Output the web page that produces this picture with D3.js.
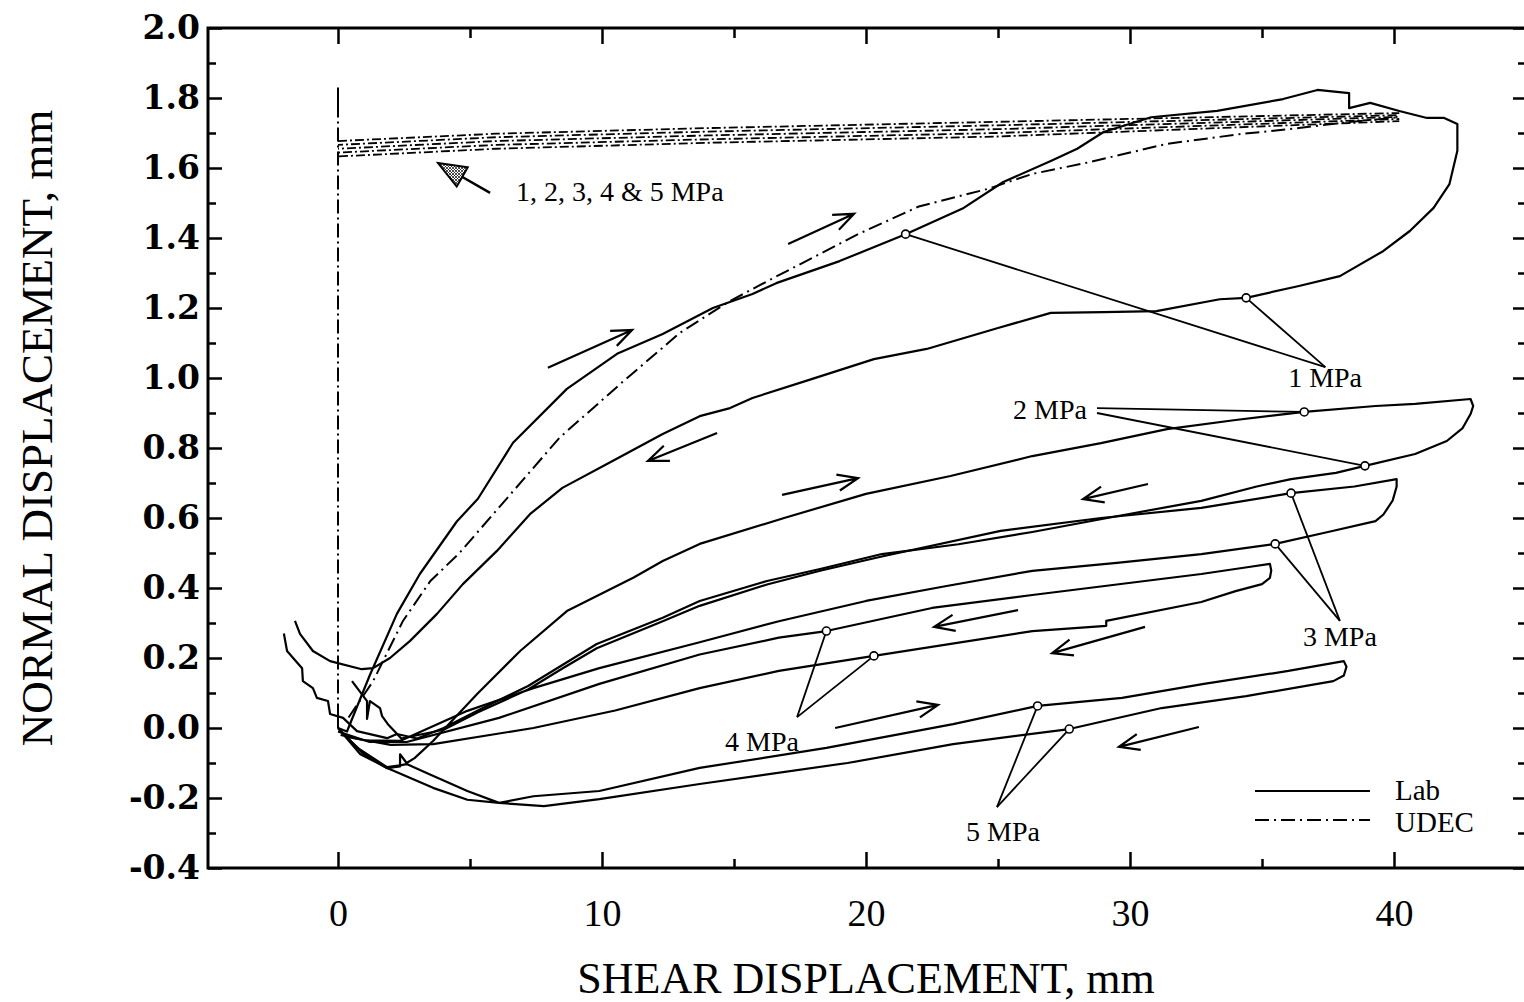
<!DOCTYPE html>
<html>
<head>
<meta charset="utf-8">
<script src="https://cdn.jsdelivr.net/npm/d3@7"></script>
<style>
  body { margin: 0; background: #fff; }
  svg { display: block; }
</style>
</head>
<body>
<div class="shear-chart"></div>
<script>
// axis ticks
const xTicks = [0, 10, 20, 30, 40]
const xMinorTicks = [5, 15, 25, 35]
const yTicks = [-0.4, -0.2, 0.0, 0.2, 0.4, 0.6, 0.8, 1.0, 1.2, 1.4, 1.6, 1.8, 2.0]
const yMinorTicks = [-0.3, -0.1, 0.1, 0.3, 0.5, 0.7, 0.9, 1.1, 1.3, 1.5, 1.7, 1.9]

// lab curves [shear mm, normal mm]
const lab1MPa = [
  [0.0, 0.0], [0.34, -0.01], [1.2, 0.15], [2.23, 0.326], [3.1, 0.44], [4.5, 0.59], [5.3, 0.655],
  [6.63, 0.815], [8.67, 0.969], [10.57, 1.069], [12.3, 1.126], [14.2, 1.2], [15.7, 1.24], [16.6, 1.271],
  [19.0, 1.334], [21.5, 1.411], [23.7, 1.486], [25.2, 1.56], [27.0, 1.62], [28.0, 1.655], [29.0, 1.703],
  [30.8, 1.745], [33.3, 1.763], [35.8, 1.797], [37.1, 1.823], [38.3, 1.814], [38.3, 1.771], [39.1, 1.786],
  [40.2, 1.763], [41.25, 1.743], [41.9, 1.743], [42.4, 1.726], [42.4, 1.649], [42.1, 1.554], [41.5, 1.486],
  [40.6, 1.42], [39.6, 1.363], [37.95, 1.291], [36.4, 1.263], [34.4, 1.229], [33.4, 1.225], [31.0, 1.191],
  [29.0, 1.188], [27.0, 1.186], [25.0, 1.143], [22.3, 1.083], [20.3, 1.054], [17.7, 0.991], [15.7, 0.943],
  [14.85, 0.914], [13.7, 0.891], [12.3, 0.84], [10.4, 0.763], [8.5, 0.686], [7.27, 0.611], [6.02, 0.506],
  [4.73, 0.411], [3.75, 0.326], [2.73, 0.249], [1.97, 0.2], [1.33, 0.171], [0.9, 0.168], [-0.3, 0.191],
  [-0.95, 0.22], [-1.44, 0.269], [-1.63, 0.306]
]
const lab2MPa = [
  [0.0, 0.0], [0.9, -0.07], [1.86, -0.115], [2.35, -0.11], [2.35, -0.075], [2.6, -0.1], [2.9, -0.086],
  [3.6, -0.037], [5.27, 0.097], [6.9, 0.22], [8.67, 0.334], [11.2, 0.43], [12.3, 0.477], [13.7, 0.526],
  [16.9, 0.6], [20.0, 0.669], [23.2, 0.72], [26.3, 0.777], [28.9, 0.814], [31.4, 0.854], [34.0, 0.88],
  [36.6, 0.903], [39.3, 0.92], [40.8, 0.926], [42.9, 0.94], [43.0, 0.92], [42.9, 0.897], [42.6, 0.857],
  [42.0, 0.82], [40.8, 0.783], [38.9, 0.749], [37.8, 0.729], [36.1, 0.711], [34.8, 0.69], [32.7, 0.649],
  [29.5, 0.605], [26.3, 0.56], [23.5, 0.525], [20.6, 0.497], [18.3, 0.455], [16.25, 0.42], [13.7, 0.363],
  [12.3, 0.315], [9.8, 0.24], [8.5, 0.18], [7.2, 0.12], [5.3, 0.05], [4.0, 0.0], [3.0, -0.03],
  [2.23, -0.017], [1.86, -0.029], [0.72, -0.009], [0.19, 0.029], [-0.3, 0.04], [-0.38, 0.077],
  [-0.8, 0.086], [-0.95, 0.114], [-1.33, 0.134], [-1.36, 0.171], [-1.7, 0.2], [-1.93, 0.22],
  [-2.0, 0.249], [-2.05, 0.27]
]
const lab3MPa = [
  [0.53, 0.134], [1.1, 0.077], [1.1, 0.026], [1.21, 0.077], [1.59, 0.057], [1.67, 0.034], [1.89, 0.011],
  [2.4, -0.03], [4.0, -0.005], [5.3, 0.045], [7.2, 0.11], [8.5, 0.17], [9.8, 0.228], [12.3, 0.305],
  [13.7, 0.349], [16.25, 0.41], [18.3, 0.45], [20.6, 0.49], [25.1, 0.563], [28.9, 0.6], [32.7, 0.629],
  [36.1, 0.671], [38.5, 0.69], [40.1, 0.711], [40.1, 0.69], [39.95, 0.65], [39.6, 0.61], [39.3, 0.591],
  [37.5, 0.56], [35.5, 0.526], [32.7, 0.497], [29.5, 0.472], [26.3, 0.449], [23.0, 0.405], [20.0, 0.363],
  [16.7, 0.305], [13.7, 0.245], [9.9, 0.171], [7.4, 0.114], [4.9, 0.049], [2.35, -0.037], [1.0, -0.035],
  [0.1, -0.02]
]
const lab4MPa = [
  [0.0, -0.01], [1.2, -0.04], [2.6, -0.04], [6.1, 0.029], [9.9, 0.126], [13.7, 0.21], [16.7, 0.258],
  [18.5, 0.277], [22.5, 0.343], [26.3, 0.38], [29.5, 0.41], [32.7, 0.44], [34.5, 0.46], [35.3, 0.469],
  [35.35, 0.45], [35.3, 0.429], [35.0, 0.411], [34.0, 0.391], [32.7, 0.36], [29.1, 0.306], [29.1, 0.292],
  [26.3, 0.277], [20.3, 0.206], [16.7, 0.163], [13.7, 0.114], [10.5, 0.05], [7.4, 0.0], [3.6, -0.046],
  [2.0, -0.048], [0.3, -0.025]
]
const lab5MPa = [
  [0.0, 0.0], [0.83, -0.074], [1.86, -0.114], [3.6, -0.171], [4.9, -0.205], [6.1, -0.214], [7.4, -0.195],
  [9.9, -0.18], [13.7, -0.114], [18.5, -0.057], [23.3, 0.011], [26.5, 0.063], [29.7, 0.086], [32.8, 0.126],
  [36.0, 0.163], [38.1, 0.191], [38.2, 0.175], [38.1, 0.15], [37.7, 0.134], [34.4, 0.091], [31.2, 0.057],
  [27.7, -0.003], [23.3, -0.046], [19.3, -0.1], [13.7, -0.16], [9.9, -0.203], [7.8, -0.223], [6.1, -0.214],
  [4.9, -0.18], [3.4, -0.13], [2.6, -0.103], [2.35, -0.107], [1.86, -0.112], [0.8, -0.06], [0.08, -0.009]
]

// UDEC results
const udec1MPa = [
  [0.4, 0.03], [1.33, 0.134], [2.46, 0.306], [3.5, 0.42], [4.6, 0.5], [6.5, 0.665], [8.4, 0.83],
  [10.8, 0.99], [12.95, 1.129], [14.85, 1.22], [16.5, 1.286], [19.7, 1.411], [22.0, 1.49], [24.6, 1.54],
  [26.3, 1.583], [28.3, 1.614], [31.4, 1.669], [34.2, 1.697], [36.4, 1.714], [38.0, 1.729], [40.2, 1.745]
]
const udecNormalLoad = [[0, 1.83], [0, 0.0]]
const udecBundleX = [0, 6, 14, 25, 40.2]
const udecBundle = [
  [1.677, 1.698, 1.714, 1.732, 1.757],
  [1.666, 1.688, 1.704, 1.722, 1.751],
  [1.655, 1.677, 1.693, 1.711, 1.746],
  [1.644, 1.666, 1.682, 1.700, 1.740],
  [1.633, 1.655, 1.672, 1.690, 1.734]
]

// annotations
const pressureLabels = ['1 MPa', '2 MPa', '3 MPa', '4 MPa', '5 MPa']
const labelPositions = [[37.39, 0.974], [26.97, 0.883], [37.95, 0.234], [16.06, -0.066], [25.19, -0.323]]
const leaderStarts = [
  [[37.4, 1.031], [37.4, 1.031]],
  [[28.75, 0.914], [28.75, 0.9]],
  [[37.95, 0.306], [37.95, 0.306]],
  [[17.39, 0.031], [17.39, 0.031]],
  [[24.96, -0.226], [24.96, -0.226]]
]
const markerPoints = [
  [[21.5, 1.411], [34.4, 1.229]],
  [[36.6, 0.903], [38.9, 0.749]],
  [[36.1, 0.671], [35.5, 0.526]],
  [[18.5, 0.277], [20.3, 0.206]],
  [[26.5, 0.063], [27.7, -0.003]]
]
const flowArrows = [
  [[7.95, 1.029], [11.14, 1.137]],
  [[17.05, 1.383], [19.55, 1.469]],
  [[14.36, 0.843], [11.74, 0.763]],
  [[16.82, 0.666], [19.7, 0.714]],
  [[30.68, 0.697], [28.22, 0.654]],
  [[25.76, 0.337], [22.58, 0.289]],
  [[30.57, 0.289], [27.05, 0.214]],
  [[18.83, 0.0], [22.73, 0.066]],
  [[32.61, 0.003], [29.58, -0.054]]
]
const udecLabel = '1, 2, 3, 4 & 5 MPa'
const udecLabelPos = [6.74, 1.506]
const udecPointer = [[5.76, 1.529], [3.79, 1.614]]

const W = 1524
const H = 1002
const xScale = d3.scaleLinear().domain([-5, 45]).range([206, 1526])
const yScale = d3.scaleLinear().domain([-0.4, 2.0]).range([868, 28])
const serif = '"Liberation Serif", "Times New Roman", serif'

const svg = d3.select('.shear-chart').append('svg')
  .attr('width', W)
  .attr('height', H)

const defs = svg.append('defs')
const hatch = defs.append('pattern')
  .attr('id', 'hatch')
  .attr('patternUnits', 'userSpaceOnUse')
  .attr('width', 3)
  .attr('height', 3)
hatch.append('rect').attr('width', 3).attr('height', 3).attr('fill', '#fff')
hatch.append('path').attr('d', 'M0,0L3,3M3,0L0,3').attr('stroke', '#222').attr('stroke-width', 0.8)

const line = d3.line()
  .x(d => xScale(d[0]))
  .y(d => yScale(d[1]))

// axes, ticks point inward
function styleAxis (g) {
  g.select('.domain').remove()
  g.selectAll('.tick line').attr('stroke', '#000').attr('stroke-width', 2.5)
}

svg.append('g')
  .attr('transform', 'translate(0,868)')
  .call(d3.axisBottom(xScale).tickValues(xMinorTicks).tickSize(-9).tickFormat(''))
  .call(styleAxis)
svg.append('g')
  .attr('transform', 'translate(0,868)')
  .call(d3.axisBottom(xScale).tickValues(xTicks).tickSize(-16).tickPadding(31).tickFormat(d => d))
  .call(styleAxis)
  .call(g => g.selectAll('text').attr('font-family', serif).attr('font-size', 38).attr('fill', '#000'))

svg.append('g')
  .attr('transform', 'translate(0,28)')
  .call(d3.axisTop(xScale).tickValues(xMinorTicks).tickSize(-10).tickFormat(''))
  .call(styleAxis)
svg.append('g')
  .attr('transform', 'translate(0,28)')
  .call(d3.axisTop(xScale).tickValues(xTicks).tickSize(-16).tickFormat(''))
  .call(styleAxis)

svg.append('g')
  .attr('transform', 'translate(208,0)')
  .call(d3.axisLeft(yScale).tickValues(yMinorTicks).tickSize(-8).tickFormat(''))
  .call(styleAxis)
svg.append('g')
  .attr('transform', 'translate(208,0)')
  .call(d3.axisLeft(yScale).tickValues(yTicks).tickSize(-14).tickPadding(8).tickFormat(d => d.toFixed(1)))
  .call(styleAxis)
  .call(g => g.selectAll('text')
    .attr('font-family', '"DejaVu Serif", serif')
    .attr('font-weight', 'bold')
    .attr('font-size', 33)
    .attr('fill', '#000'))

svg.append('g')
  .attr('transform', 'translate(1526,0)')
  .call(d3.axisRight(yScale).tickValues(yMinorTicks).tickSize(-8).tickFormat(''))
  .call(styleAxis)
svg.append('g')
  .attr('transform', 'translate(1526,0)')
  .call(d3.axisRight(yScale).tickValues(yTicks).tickSize(-13).tickFormat(''))
  .call(styleAxis)

svg.append('path')
  .attr('d', 'M208,28V868H1526V28Z')
  .attr('fill', 'none')
  .attr('stroke', '#000')
  .attr('stroke-width', 3)

// axis titles
svg.append('text')
  .attr('x', 866)
  .attr('y', 993)
  .attr('text-anchor', 'middle')
  .attr('font-family', serif)
  .attr('font-size', 44)
  .text('SHEAR DISPLACEMENT, mm')

svg.append('text')
  .attr('transform', 'translate(52,428) rotate(-90)')
  .attr('text-anchor', 'middle')
  .attr('font-family', serif)
  .attr('font-size', 45)
  .text('NORMAL DISPLACEMENT, mm')

const plot = svg.append('g')

// UDEC
const dashDot = '14,5,2,5'
plot.append('path')
  .datum(udecNormalLoad)
  .attr('d', line)
  .attr('fill', 'none')
  .attr('stroke', '#000')
  .attr('stroke-width', 2)
  .attr('stroke-dasharray', '30,4,2,4,14,4,2,4,14,4,2,4,14,4,2,4,14,4,2,4,14,4,2,4,14,4,2,4,14,4,2,4,14,4,2,4,14,4,2,4,14,4,2,4,14,4,2,4,14,4,2,4,14,4,2,4,14,4,2,4,14,4,2,4,14,4,2,4,14,4,2,4,14,4,2,4,14,4,2,4,14,4,2,4,14,4,2,4,14,4,2,4,14,4,2,4,14,4,2,4')

udecBundle.forEach((ys, i) => {
  plot.append('path')
    .datum(ys.map((v, j) => [udecBundleX[j], v]))
    .attr('d', line)
    .attr('fill', 'none')
    .attr('stroke', '#000')
    .attr('stroke-width', 1.8)
    .attr('stroke-dasharray', '9,3,2,3')
    .attr('stroke-dashoffset', i * 4)
})

plot.append('path')
  .datum(udec1MPa)
  .attr('d', line)
  .attr('fill', 'none')
  .attr('stroke', '#000')
  .attr('stroke-width', 2)
  .attr('stroke-dasharray', dashDot)

// lab
const labSeries = [lab1MPa, lab2MPa, lab3MPa, lab4MPa, lab5MPa]
labSeries.forEach(s => {
  plot.append('path')
    .datum(s)
    .attr('d', line)
    .attr('fill', 'none')
    .attr('stroke', '#000')
    .attr('stroke-width', 2.2)
    .attr('stroke-linejoin', 'round')
})

// leaders, markers, labels
pressureLabels.forEach((label, i) => {
  markerPoints[i].forEach((p, k) => {
    const s = leaderStarts[i][k]
    plot.append('line')
      .attr('x1', xScale(s[0])).attr('y1', yScale(s[1]))
      .attr('x2', xScale(p[0])).attr('y2', yScale(p[1]))
      .attr('stroke', '#000')
      .attr('stroke-width', 1.8)
  })
  markerPoints[i].forEach(p => {
    plot.append('circle')
      .attr('cx', xScale(p[0])).attr('cy', yScale(p[1]))
      .attr('r', 4)
      .attr('fill', '#fff')
      .attr('stroke', '#000')
      .attr('stroke-width', 1.6)
  })
  plot.append('text')
    .attr('x', xScale(labelPositions[i][0]))
    .attr('y', yScale(labelPositions[i][1]))
    .attr('text-anchor', 'middle')
    .attr('font-family', serif)
    .attr('font-size', 28)
    .text(label)
})

function drawArrow (from, to) {
  const x0 = xScale(from[0])
  const y0 = yScale(from[1])
  const x1 = xScale(to[0])
  const y1 = yScale(to[1])
  const a = Math.atan2(y1 - y0, x1 - x0)
  const len = 22
  const spread = 0.38
  const p = d3.path()
  p.moveTo(x0, y0)
  p.lineTo(x1, y1)
  p.moveTo(x1 - len * Math.cos(a - spread), y1 - len * Math.sin(a - spread))
  p.lineTo(x1, y1)
  p.lineTo(x1 - len * Math.cos(a + spread), y1 - len * Math.sin(a + spread))
  plot.append('path')
    .attr('d', p.toString())
    .attr('fill', 'none')
    .attr('stroke', '#000')
    .attr('stroke-width', 2.2)
}
flowArrows.forEach(a => drawArrow(a[0], a[1]))

// hatched pointer to the UDEC bundle
{
  const x0 = xScale(udecPointer[0][0])
  const y0 = yScale(udecPointer[0][1])
  const x1 = xScale(udecPointer[1][0])
  const y1 = yScale(udecPointer[1][1])
  const a = Math.atan2(y1 - y0, x1 - x0)
  const len = 30
  const spread = 0.38
  const bx = x1 - len * 0.8 * Math.cos(a)
  const by = y1 - len * 0.8 * Math.sin(a)
  plot.append('line')
    .attr('x1', x0).attr('y1', y0).attr('x2', bx).attr('y2', by)
    .attr('stroke', '#000').attr('stroke-width', 2.5)
  plot.append('path')
    .attr('d', 'M' + x1 + ',' + y1 +
      'L' + (x1 - len * Math.cos(a - spread)) + ',' + (y1 - len * Math.sin(a - spread)) +
      'L' + (x1 - len * Math.cos(a + spread)) + ',' + (y1 - len * Math.sin(a + spread)) + 'Z')
    .attr('fill', 'url(#hatch)')
    .attr('stroke', '#000')
    .attr('stroke-width', 2)
  plot.append('text')
    .attr('x', xScale(udecLabelPos[0]))
    .attr('y', yScale(udecLabelPos[1]))
    .attr('font-family', serif)
    .attr('font-size', 28)
    .text(udecLabel)
}

// legend
const legend = svg.append('g').attr('transform', 'translate(1255,0)')
legend.append('line')
  .attr('x1', 0).attr('x2', 115).attr('y1', 791).attr('y2', 791)
  .attr('stroke', '#000').attr('stroke-width', 2.2)
legend.append('line')
  .attr('x1', 0).attr('x2', 115).attr('y1', 820).attr('y2', 820)
  .attr('stroke', '#000').attr('stroke-width', 2)
  .attr('stroke-dasharray', dashDot)
legend.append('text')
  .attr('x', 140).attr('y', 800)
  .attr('font-family', serif).attr('font-size', 29)
  .text('Lab')
legend.append('text')
  .attr('x', 140).attr('y', 832)
  .attr('font-family', serif).attr('font-size', 29)
  .text('UDEC')
</script>
</body>
</html>
